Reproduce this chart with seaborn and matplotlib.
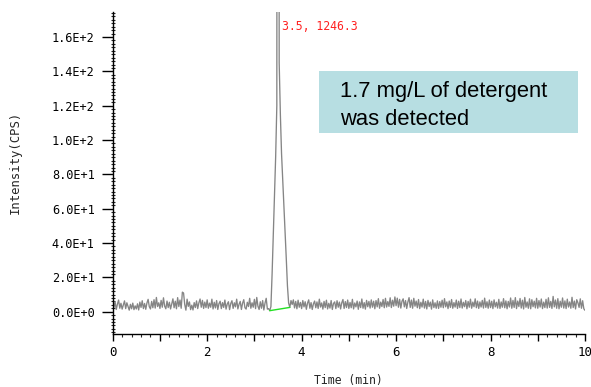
import numpy as np
import pandas as pd
import matplotlib
matplotlib.use("Agg")
import matplotlib.pyplot as plt
from matplotlib.ticker import MultipleLocator, FuncFormatter
from matplotlib.patches import Rectangle
import seaborn as sns

# ---------------- data ----------------
time_step = 0.025  # min, sampling interval of the chromatogram
noise_0_to_3_3 = [
    6.2, 2.4, 5.9, 1.3, 4.4, 6.8, 2.0, 4.9, 1.5, 4.0, 6.3, 1.8, 5.2, 3.0, 0.9, 4.3, 1.7, 5.0, 1.2, 3.4,
    1.6, 4.6, 1.0, 5.6, 2.5, 6.4, 1.8, 4.8, 1.4, 5.1, 7.2, 2.9, 1.6, 6.0, 2.3, 7.0, 2.1, 8.3, 3.0, 5.2,
    1.9, 6.6, 2.6, 8.1, 3.2, 1.7, 6.2, 2.4, 5.5, 1.6, 4.6, 7.5, 2.3, 6.1, 1.7, 8.2, 3.0, 6.8, 2.0, 11.4,
    10.9, 4.2, 0.9, 7.3, 3.1, 5.7, 1.2, 3.8, 1.0, 5.3, 2.4, 6.3, 1.8, 5.2, 7.4, 2.6, 6.6, 1.9, 5.6, 2.4,
    6.9, 2.0, 5.0, 2.6, 7.3, 1.6, 5.5, 2.2, 6.5, 1.3, 4.7, 6.1, 1.8, 5.3, 2.5, 6.8, 1.5, 4.5, 5.8, 1.2,
    4.8, 6.4, 1.9, 5.2, 2.8, 7.3, 1.6, 4.3, 6.0, 1.3, 5.0, 7.0, 2.3, 1.5, 5.5, 3.0, 7.8, 2.0, 5.2, 2.6,
    7.2, 1.8, 8.3, 3.2, 1.3, 5.8, 2.0, 6.5, 1.0, 5.0, 7.8, 1.5,
]
peak_3_3_to_3_8 = [
    1.8, 0.6, 3.0, 22, 45, 68, 90, 120, 1246.3, 145, 115, 92, 77, 62, 46, 31, 15, 5.0, 2.5, 6.5, 4.2,
]
noise_3_8_to_10 = [
    6.9, 2.2, 6.0, 1.7, 6.7, 2.6, 5.4,
    1.8, 6.5, 2.8, 5.8, 1.4, 5.0, 6.9, 2.0, 5.3, 1.3, 4.6, 6.2, 2.3, 5.7, 1.9, 7.3, 2.7, 5.1, 1.5, 6.0,
    2.4, 6.7, 1.6, 4.9, 2.1, 6.5, 1.3, 4.8, 5.7, 1.8, 6.4, 2.6, 5.6, 1.6, 5.2, 7.1, 1.9, 5.9, 2.4, 6.8,
    1.9, 5.4, 2.3, 7.2, 1.6, 5.1, 2.8, 6.2, 1.4, 5.7, 2.4, 7.4, 2.0, 5.3, 1.5, 6.6, 2.9, 6.0, 2.1, 6.9,
    2.6, 6.1, 1.7, 6.5, 2.8, 7.6, 2.0, 5.6, 3.0, 7.1, 2.3, 7.8, 2.7, 5.9, 3.1, 8.1, 2.4, 6.7, 3.2, 8.6,
    3.5, 7.9, 2.6, 7.2, 2.1, 6.1, 7.5, 2.8, 6.5, 1.9, 5.7, 8.2, 2.5, 6.8, 2.0, 7.8, 3.2, 6.2, 2.3, 7.1,
    1.8, 5.5, 2.7, 7.3, 2.1, 6.0, 1.6, 6.6, 3.0, 5.6, 1.5, 6.9, 2.4, 5.2, 2.0, 6.3, 1.9, 5.9, 2.6, 6.7,
    2.3, 7.6, 2.8, 5.7, 1.8, 6.2, 2.5, 7.1, 2.0, 5.3, 2.7, 6.8, 1.9, 6.1, 2.4, 7.4, 2.1, 5.5, 2.9, 6.5,
    1.7, 6.0, 2.6, 7.3, 2.0, 5.6, 2.9, 7.5, 2.3, 6.2, 1.9, 5.7, 2.7, 6.6, 2.1, 7.9, 2.5, 5.8, 2.0, 6.8,
    2.4, 6.1, 1.8, 6.9, 2.8, 5.5, 2.1, 7.2, 1.9, 5.7, 2.6, 7.6, 2.3, 6.3, 1.7, 6.0, 2.7, 8.0, 2.0, 6.6,
    2.5, 8.2, 1.8, 6.2, 3.0, 7.7, 2.1, 6.7, 1.6, 8.3, 2.6, 5.7, 2.0, 7.5, 1.7, 7.0, 2.9, 6.1, 2.2, 7.8,
    2.0, 6.5, 2.7, 7.4, 1.8, 5.6, 2.4, 7.2, 2.1, 8.1, 2.5, 6.0, 1.9, 8.9, 2.8, 6.8, 2.0, 7.6, 1.7, 6.1,
    2.6, 8.0, 2.1, 6.3, 1.8, 7.3, 2.7, 5.7, 2.0, 8.4, 2.4, 6.2, 1.6, 7.0, 5.2, 2.5, 7.5, 2.0, 6.4, 1.7, 0.8,
]
intensity = noise_0_to_3_3 + peak_3_3_to_3_8 + noise_3_8_to_10
time_min = np.arange(len(intensity)) * time_step

baseline_time = [3.325, 3.75]
baseline_int = [0.6, 2.5]

peak_rt = 3.5
peak_height = 1246.3
peak_label = f"{peak_rt}, {peak_height}"
note_lines = ["1.7 mg/L of detergent", "was detected"]

x_label = "Time (min)"
y_label = "Intensity(CPS)"
y_ticks = [0, 20, 40, 60, 80, 100, 120, 140, 160]
x_ticks = [0, 1, 2, 3, 4, 5, 6, 7, 8, 9, 10]

df = pd.DataFrame({"Time": time_min, "Intensity": intensity})

# ---------------- plot ----------------
sns.set_style("ticks")
plt.rcParams["font.family"] = ["DejaVu Sans Mono", "DejaVu Sans"]

fig = plt.figure(figsize=(5.91, 3.87), dpi=100)
ax = fig.add_axes([112.7 / 591, (387 - 333.5) / 387, (585 - 112.7) / 591, (333.5 - 12) / 387])

sns.lineplot(data=df, x="Time", y="Intensity", ax=ax, color="#858585", linewidth=0.95,
             estimator=None, sort=False)
sns.lineplot(x=baseline_time, y=baseline_int, ax=ax, color="#22e022", linewidth=1.0)

ax.set_xlim(0, 10)
ax.set_ylim(-12.7, 174.6)
sns.despine(ax=ax)
for s in ("left", "bottom"):
    ax.spines[s].set_linewidth(1.0)
    ax.spines[s].set_color("black")

ax.set_yticks(y_ticks)
ax.yaxis.set_minor_locator(MultipleLocator(2))


def sci(v, pos):
    m, e = f"{v:.1E}".split("E")
    return f"{m}E{int(e):+d}"


ax.yaxis.set_major_formatter(FuncFormatter(sci))
ax.set_xticks(x_ticks)
ax.set_xticklabels([str(t) if t % 2 == 0 else "" for t in x_ticks])
ax.xaxis.set_minor_locator(MultipleLocator(0.2))

ax.tick_params(axis="y", which="major", direction="out", length=8, width=1.0, pad=5,
               labelsize=8.6, colors="black")
ax.tick_params(axis="y", which="minor", direction="inout", length=3.5, width=0.8)
ax.tick_params(axis="x", which="major", direction="out", length=5, width=1.0, pad=4,
               labelsize=9, colors="black")
ax.tick_params(axis="x", which="minor", direction="out", length=2.3, width=0.8)

ax.set_xlabel(x_label, fontsize=8.3)
ax.xaxis.set_label_coords(0.498, -0.125)
ax.set_ylabel(y_label, fontsize=8.8)
ax.yaxis.set_label_coords(-0.192, 0.532)

ax.text(3.585, 165.9, peak_label, color="#ff2020", fontsize=8.3, ha="left", va="center")

fig.patches.append(Rectangle((319 / 591, (387 - 133.3) / 387), (577.7 - 319) / 591,
                             (133.3 - 71) / 387, transform=fig.transFigure,
                             facecolor="#b7dee2", edgecolor="none", zorder=5))
fig.text(340 / 591, (387 - 97.3) / 387, note_lines[0], family="Liberation Sans",
         fontsize=15.8, color="black", va="baseline", ha="left", zorder=6)
fig.text(340 / 591, (387 - 125) / 387, note_lines[1], family="Liberation Sans",
         fontsize=15.8, color="black", va="baseline", ha="left", zorder=6)

fig.savefig("out.png", dpi=100, facecolor="white")
